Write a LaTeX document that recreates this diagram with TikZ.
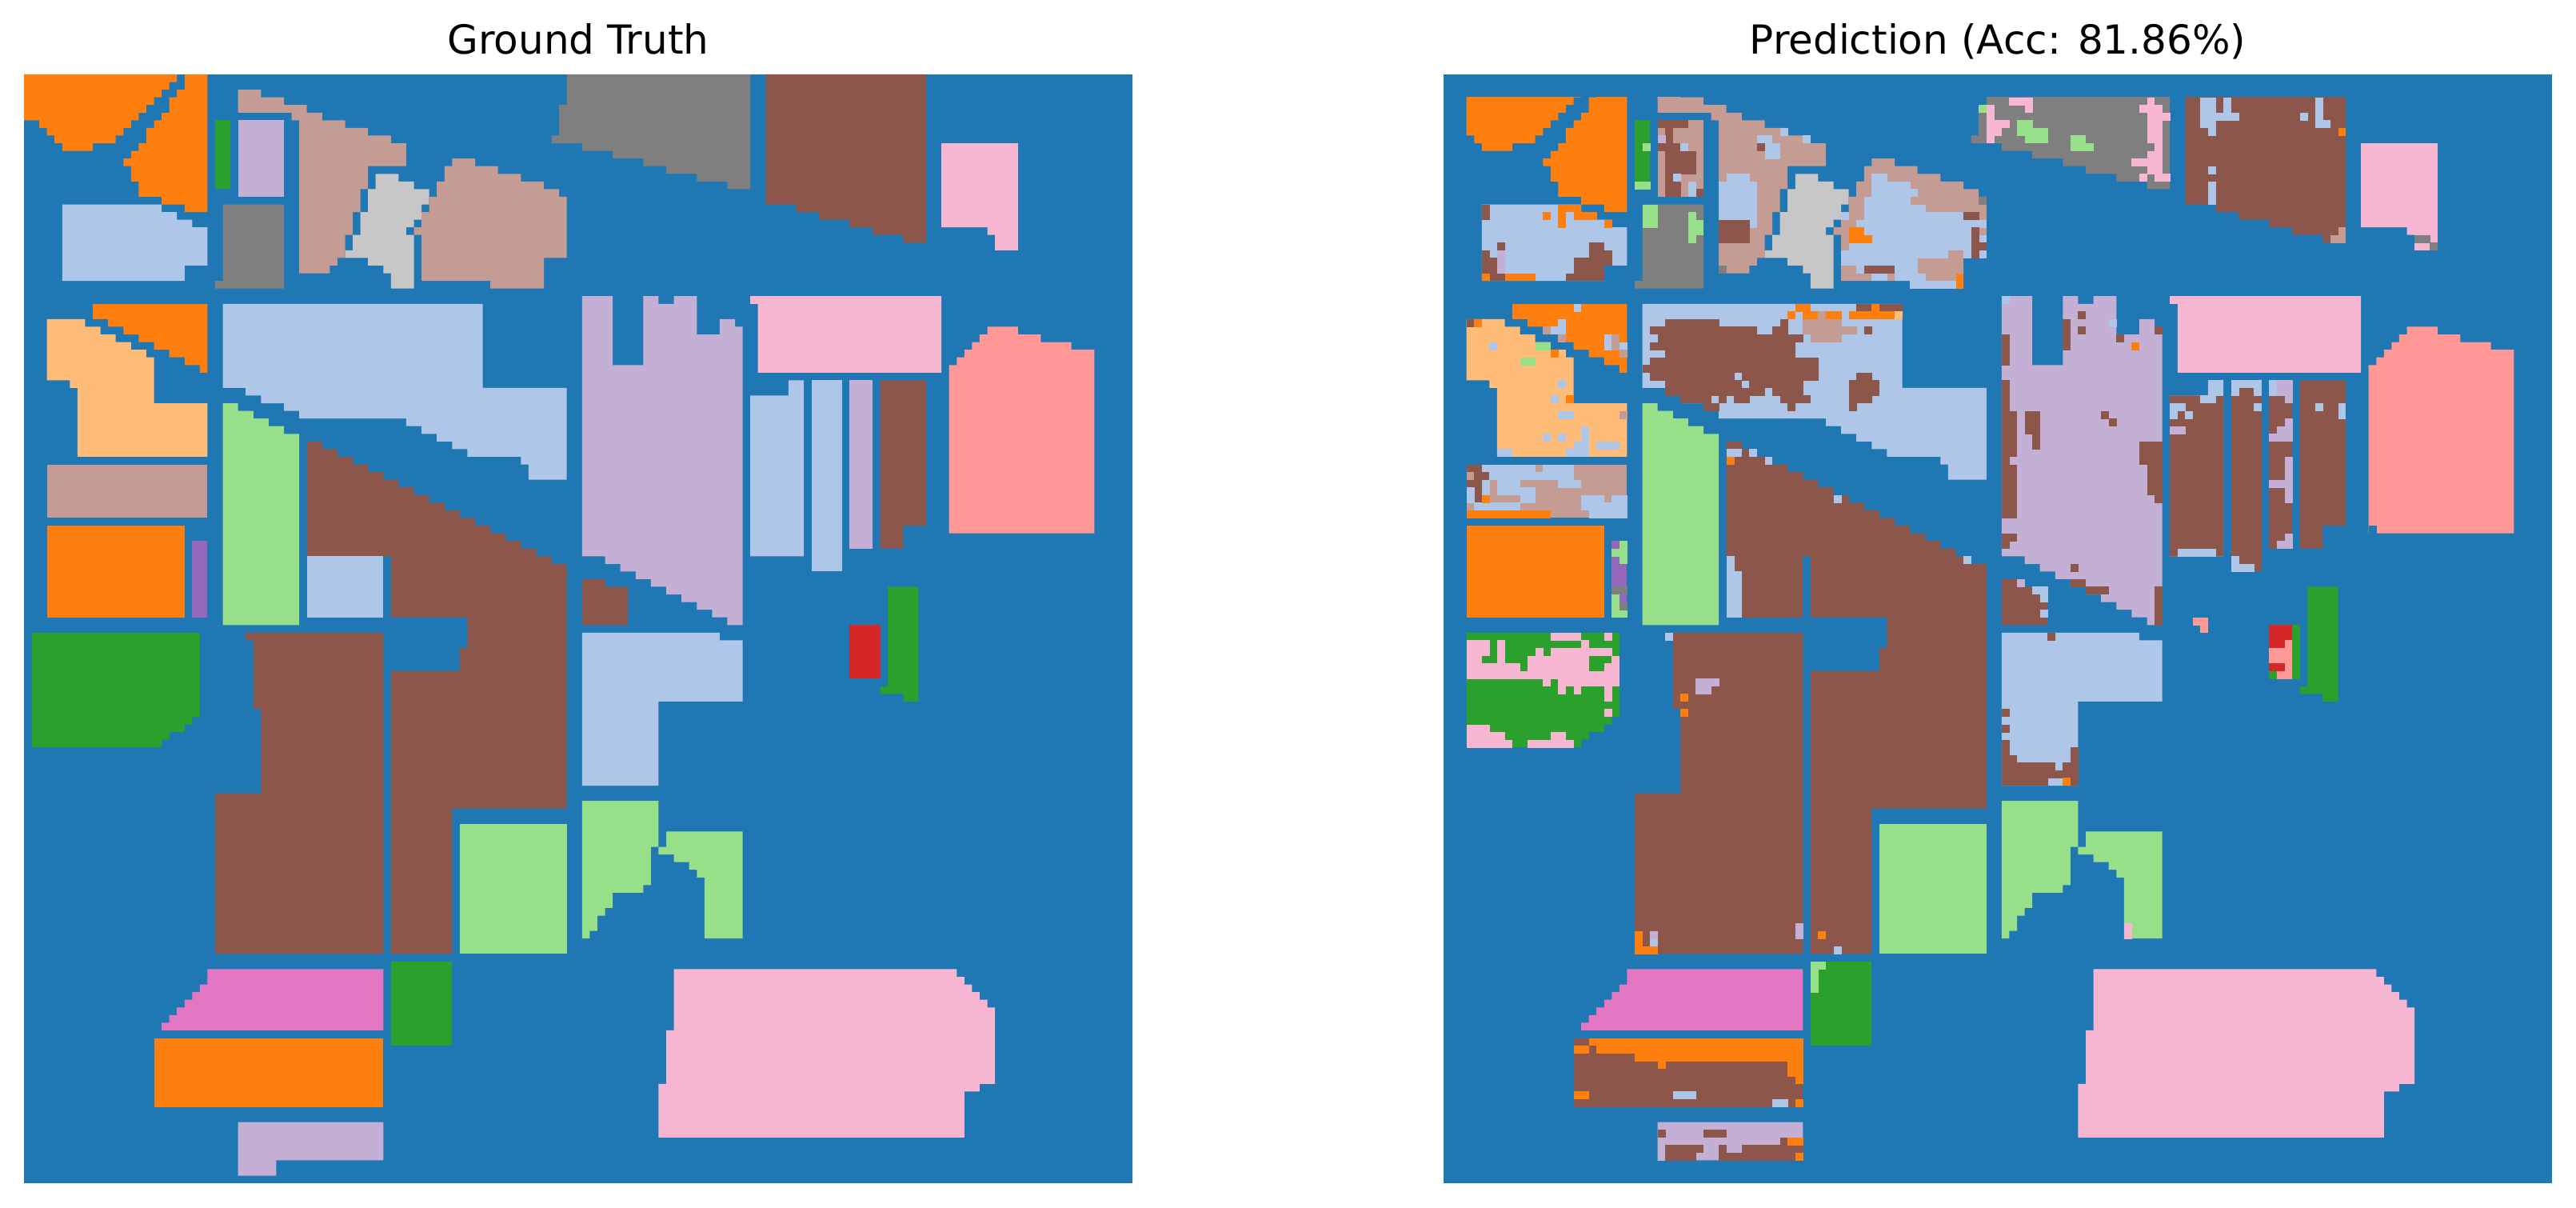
\documentclass[tikz,border=0pt]{standalone}
\usepackage{fontspec}
\setmainfont{DejaVu Sans}
\definecolor{soil}{HTML}{1F77B4}
\definecolor{sky}{HTML}{AEC7E8}
\definecolor{amber}{HTML}{FF7F0E}
\definecolor{peach}{HTML}{FFBB78}
\definecolor{leaf}{HTML}{2CA02C}
\definecolor{mint}{HTML}{98DF8A}
\definecolor{crimson}{HTML}{D62728}
\definecolor{salmon}{HTML}{FF9896}
\definecolor{violet}{HTML}{9467BD}
\definecolor{lilac}{HTML}{C5B0D5}
\definecolor{bark}{HTML}{8C564B}
\definecolor{tan}{HTML}{C49C94}
\definecolor{magenta}{HTML}{E377C2}
\definecolor{blush}{HTML}{F7B6D2}
\definecolor{slate}{HTML}{7F7F7F}
\definecolor{silver}{HTML}{C7C7C7}
% rectangles in cells: column, row, column, row (a hair too long, so no seams show)
\newcommand{\patches}[2]{\foreach \a/\b/\c/\d in {#2} \fill[#1] (\a,\b) rectangle (\c+.04,\d+.04);}
% the labelled fields, shared by both panels
\newcommand{\fields}{%
  \fill[amber] (0,0) -| (20,1) -| (19,2) -| (18,3) -| (17,4) -| (16,5) -| (15,6) -| (14,7) -| (13,8) -| (12,9) -| (9,10) -| (5,9) -| (4,8) -| (3,7) -| (2,6) -| (0,0);
  \fill[amber] (21,0) -| (24,18) -| (21,17) -| (18,16) -| (15,14) -| (14,12) -| (13,11) -| (14,10) -| (15,9) -| (16,7) -| (17,6) -| (18,5) -| (19,3) -| (20,2) -| (21,0);
  \fill[leaf] (25,6) rectangle (27,15);
  \fill[lilac] (28,6) rectangle (34,16);
  \fill[tan] (28,2) -| (31,3) -| (34,4) -| (37,5) -| (39,6) -| (42,7) -| (45,8) -| (48,9) -| (50,12) -| (45,15) -| (44,18) -| (43,21) -| (42,24) -| (41,25) -| (40,26) -| (36,6) -| (35,5) -| (28,2);
  \fill[silver] (46,13) -| (49,14) -| (51,15) -| (53,17) -| (52,19) -| (51,20) -| (50,21) -| (51,28) -| (48,26) -| (47,25) -| (45,24) -| (42,23) -| (43,21) -| (44,18) -| (45,15) -| (46,13);
  \fill[tan] (56,11) -| (59,12) -| (62,13) -| (65,14) -| (68,15) -| (70,16) -| (71,24) -| (68,28) -| (61,27) -| (52,21) -| (51,20) -| (52,18) -| (53,16) -| (54,14) -| (55,12) -| (56,11);
  \fill[sky] (5,17) -| (18,18) -| (20,19) -| (22,20) -| (24,25) -| (21,27) -| (5,17);
  \fill[slate] (26,17) -| (34,28) -| (25,27) -| (26,17);
  \fill[slate] (71,0) -| (95,15) -| (92,14) -| (88,13) -| (84,12) -| (81,11) -| (77,10) -| (73,9) -| (69,8) -| (70,4) -| (71,0);
  \fill[bark] (97,0) -| (118,22) -| (115,21) -| (111,20) -| (108,19) -| (104,18) -| (101,17) -| (97,0);
  \fill[blush] (120,9) -| (130,23) -| (127,21) -| (126,20) -| (120,9);
  % middle band
  \fill[amber] (9,30) -| (24,39) -| (23,38) -| (21,37) -| (19,36) -| (17,35) -| (15,34) -| (13,33) -| (11,32) -| (9,30);
  \fill[peach] (3,32) -| (8,33) -| (10,34) -| (12,35) -| (14,36) -| (16,37) -| (17,43) -| (24,50) -| (7,41) -| (6,40) -| (3,32);
  \fill[tan] (3,51) rectangle (24,58);
  \fill[amber] (3,59) rectangle (21,71);
  \fill[violet] (22,61) rectangle (24,71);
  \fill[mint] (26,43) -| (28,44) -| (30,45) -| (32,46) -| (34,47) -| (36,72) -| (26,43);
  \fill[sky] (26,30) -| (60,41) -| (71,53) -| (66,51) -| (65,50) -| (58,49) -| (56,48) -| (54,47) -| (52,46) -| (50,45) -| (36,44) -| (34,43) -| (31,42) -| (29,41) -| (26,30);
  \fill[bark] (37,48) -| (39,49) -| (41,50) -| (43,51) -| (45,52) -| (47,53) -| (49,54) -| (51,55) -| (53,56) -| (55,57) -| (57,58) -| (59,59) -| (61,60) -| (63,61) -| (65,62) -| (67,63) -| (69,64) -| (71,96) -| (56,115) -| (48,78) -| (57,75) -| (58,71) -| (48,63) -| (37,48);
  \fill[sky] (37,63) rectangle (47,71);
  \fill[lilac] (73,29) -| (77,38) -| (81,29) -| (83,30) -| (85,29) -| (88,34) -| (91,32) -| (93,33) -| (94,72) -| (92,71) -| (90,70) -| (88,69) -| (86,68) -| (84,67) -| (82,66) -| (80,65) -| (78,64) -| (76,63) -| (73,29);
  \fill[bark] (73,66) -| (76,67) -| (79,72) -| (73,66);
  \fill[blush] (95,29) -| (120,39) -| (96,30) -| (95,29);
  \fill[sky] (100,40) -| (102,63) -| (95,42) -| (100,40);
  \fill[sky] (103,40) rectangle (107,65);
  \fill[lilac] (108,40) rectangle (111,62);
  \fill[bark] (112,40) -| (118,59) -| (115,62) -| (112,40);
  \fill[salmon] (126,33) -| (130,34) -| (133,35) -| (137,36) -| (140,60) -| (121,38) -| (122,37) -| (123,36) -| (124,35) -| (125,34) -| (126,33);
  % lower band
  \fill[bark] (29,73) -| (47,115) -| (25,94) -| (31,83) -| (30,74) -| (29,73);
  \fill[leaf] (1,73) -| (23,84) -| (22,85) -| (21,86) -| (19,87) -| (18,88) -| (1,73);
  \fill[mint] (57,98) rectangle (71,115);
  \fill[leaf] (48,116) rectangle (56,127);
  \fill[magenta] (24,117) -| (47,125) -| (18,124) -| (19,123) -| (20,122) -| (21,121) -| (22,120) -| (23,119) -| (24,117);
  \fill[amber] (17,126) rectangle (47,135);
  \fill[lilac] (28,137) -| (47,142) -| (33,144) -| (28,137);
  \fill[sky] (73,73) -| (91,74) -| (94,82) -| (83,93) -| (73,73);
  \fill[crimson] (108,72) rectangle (112,79);
  \fill[leaf] (113,67) -| (117,82) -| (115,81) -| (112,80) -| (113,67);
  \fill[mint] (73,95) -| (83,101) -| (82,106) -| (81,107) -| (77,109) -| (76,110) -| (75,112) -| (74,113) -| (73,95);
  \fill[mint] (84,99) -| (94,113) -| (89,105) -| (88,104) -| (87,103) -| (85,102) -| (83,101) -| (84,99);
  \fill[blush] (85,117) -| (122,118) -| (123,119) -| (124,120) -| (125,121) -| (126,122) -| (127,132) -| (125,133) -| (123,139) -| (83,132) -| (84,125) -| (85,117);
}
\begin{document}
\begin{tikzpicture}[
        paneltitle/.style={anchor=base, font=\fontsize{14.23}{17}\selectfont, text=black, inner sep=0pt},
        panelcells/.style={x=0.09559cm, y=-0.09559cm}
    ]
    \useasboundingbox (0,0) rectangle (32.21,15.09);

    % Titles
    \node[paneltitle] (truthtitle) at (7.23,14.41) {Ground Truth};
    \node[paneltitle] (predtitle) at (24.98,14.41) {Prediction (Acc: 81.86\%)};

    % Ground truth panel
    \begin{scope}[shift={(0.30cm,14.16cm)}, panelcells]
        \fill[soil] (0,0) rectangle (145,145);
        \fields
    \end{scope}

    % Prediction panel
    \begin{scope}[shift={(18.05cm,14.16cm)}, panelcells]
        \fill[soil] (0,0) rectangle (145,145);
        \begin{scope}
            \clip (3,3) rectangle (142,142);
            \fields
        \end{scope}
        % fields that are mostly another class
        \fill[tan] (28,6) rectangle (34,16);
        \fill[bark] (37,63) rectangle (47,71);
        \fill[bark] (100,40) -| (102,63) -| (95,42) -| (100,40);
        \fill[bark] (103,40) rectangle (107,65);
        \fill[bark] (108,40) rectangle (111,62);
        \fill[bark] (17,126) rectangle (47,135);

        % Top left block
        \patches{bark}{28/6/32/7, 29/7/30/9, 28/9/31/10, 29/10/33/13, 29/13/30/14, 29/14/31/16, 33/15/34/16}
        \patches{lilac}{28/8/29/9}
        \patches{sky}{31/9/32/10, 30/13/31/14, 32/14/33/16}
        \patches{mint}{26/9/27/10, 25/14/27/15, 26/17/28/20, 32/18/33/19, 32/19/34/21, 32/21/33/22}

        % Top fields
        \patches{sky}{44/7/45/8, 41/8/43/9, 47/8/48/9, 42/9/44/11, 37/13/40/14, 36/14/41/19, 40/19/41/20}
        \patches{bark}{41/9/42/10, 36/19/40/22}
        \patches{slate}{36/25/37/26, 70/16/71/17}
        \patches{sky}{52/18/53/19, 56/13/58/14, 56/14/61/15, 56/15/62/16, 55/16/61/17, 55/17/63/18, 55/18/68/19, 54/19/71/20, 55/20/69/21, 56/21/69/22, 70/21/71/22, 53/22/69/23, 52/23/66/24, 68/23/69/24, 70/23/71/24, 52/24/62/25, 54/25/55/26, 59/25/62/26, 56/26/58/27, 59/26/63/27, 61/27/67/28}
        \patches{bark}{68/18/70/19, 69/20/70/22, 69/22/71/23, 69/23/70/24, 55/25/59/26}
        \patches{amber}{53/20/55/21, 53/21/56/22, 67/26/68/28}

        % Left column
        \patches{bark}{5/17/6/19, 7/22/8/23, 5/23/6/24, 5/24/7/26, 6/26/8/27, 16/26/21/27, 19/22/21/23, 19/23/22/24, 17/24/22/25, 17/25/21/26}
        \patches{lilac}{7/23/8/26}
        \patches{amber}{15/17/18/18, 13/18/14/19, 15/18/16/20, 17/18/20/19, 21/19/22/20, 5/26/6/27, 8/26/12/27}
        \patches{sky}{17/30/18/31, 15/32/16/33, 14/33/16/34, 21/34/22/36, 23/35/24/36}
        \patches{tan}{13/33/14/34, 15/34/16/35, 22/34/23/36, 23/36/24/37, 23/44/24/45}
        \patches{bark}{3/32/4/33}
        \patches{amber}{4/32/5/33, 14/36/15/37, 16/42/17/43}
        \patches{sky}{6/35/7/36, 15/40/16/41, 14/42/15/43, 15/44/17/45, 18/46/19/48, 13/47/14/48, 15/47/16/48, 17/48/19/49, 20/48/23/49, 7/49/9/50, 16/49/19/50}
        \patches{mint}{12/35/14/36, 10/37/12/38}
        \patches{bark}{3/51/5/52, 4/52/6/53, 3/53/5/54, 4/54/5/56}
        \patches{sky}{5/51/12/52, 13/51/17/52, 6/52/17/53, 5/53/6/54, 7/53/10/54, 15/53/18/54, 3/54/4/56, 5/54/6/55, 7/54/12/55, 10/55/12/56, 18/55/21/56, 22/55/24/56, 4/56/10/57, 18/56/24/57, 19/57/24/58}
        \patches{amber}{5/55/6/56, 3/57/14/58}
        % violet strip
        \patches{mint}{23/61/24/62, 22/62/24/63, 23/63/24/64, 22/68/23/70, 22/70/24/71}
        \patches{slate}{22/67/24/68, 23/69/24/70}

        % Long strip in the middle
        \patches{bark}{54/30/56/31, 57/30/60/31, 29/32/36/33, 44/32/45/33, 27/33/41/34, 43/33/45/34, 55/33/56/34, 28/34/47/35, 27/35/46/36, 29/36/46/37, 27/37/49/38, 26/38/49/39, 27/39/38/40, 39/39/49/40, 54/39/56/40, 29/40/39/41, 40/40/47/41, 53/40/57/41, 29/41/42/42, 43/41/47/42, 53/41/57/42, 31/42/35/43, 36/42/37/43, 38/42/40/43, 44/42/48/43, 53/42/56/43, 34/43/36/44, 45/43/46/44, 53/43/54/44}
        \patches{amber}{46/30/48/31, 56/30/57/31, 45/31/46/32, 47/31/49/32, 50/31/52/32, 53/31/59/32}
        \patches{tan}{49/31/50/32, 47/32/52/33, 47/33/54/34, 48/34/52/35}
        \patches{peach}{59/31/60/32}
        \patches{sky}{37/49/39/50, 40/49/41/50, 42/50/43/51, 51/55/52/56, 68/63/69/64, 37/63/38/65, 37/65/39/71}
        \patches{amber}{37/50/38/51}

        % Tall field and its neighbours
        \patches{bark}{73/34/74/38, 83/31/84/32, 81/32/82/36, 83/33/84/34, 88/34/89/35, 93/33/94/34, 73/40/74/44, 73/44/75/50, 73/50/74/51, 73/51/75/58, 76/44/78/47, 77/47/78/49, 86/44/87/45, 87/45/88/46, 91/48/94/51, 92/51/94/55, 93/55/94/56, 73/60/75/61, 73/61/74/62, 82/64/83/65, 82/66/84/67, 84/67/87/68, 93/67/94/72}
        \patches{sky}{73/29/74/30, 87/32/88/33, 77/67/79/68, 78/68/79/69, 78/70/79/71}
        \patches{amber}{90/35/91/36}
        \patches{lilac}{75/66/76/67}
        \patches{bark}{79/73/80/74, 73/83/74/84, 73/85/74/86, 73/87/74/89, 82/88/83/90, 73/89/75/90, 73/90/80/91, 81/90/83/91, 73/91/83/92, 73/92/79/93, 82/92/83/93}
        \patches{amber}{81/92/82/93}
        \patches{blush}{89/111/90/113}

        % Top right fields
        \patches{blush}{74/3/77/4, 76/4/77/5, 71/4/72/9, 71/6/74/7, 71/7/73/8, 92/3/93/4, 91/4/94/5, 92/5/95/6, 92/6/94/9, 93/9/94/10, 92/10/94/11, 90/11/94/12, 92/12/94/13, 91/13/92/14, 93/13/95/14}
        \patches{mint}{70/4/71/5, 75/6/77/7, 75/7/79/8, 76/8/79/9, 82/8/84/9, 82/9/85/10}
        \patches{sky}{99/3/101/7, 100/7/101/8, 102/3/103/5, 101/5/104/6, 112/5/113/6, 114/3/115/7, 114/6/116/7, 100/12/101/13, 100/14/101/17}
        \patches{amber}{117/7/118/8}
        \patches{tan}{117/20/118/22, 116/21/117/22}
        \patches{slate}{127/21/129/22, 129/22/130/23}

        % Narrow bars
        \patches{sky}{100/40/102/42, 99/42/101/43, 95/43/97/44, 95/44/96/45, 97/44/98/45, 96/62/101/63, 103/40/107/41, 103/41/104/42, 106/41/107/42, 106/43/107/44, 103/63/104/65, 103/64/106/65, 108/40/109/42, 114/43/115/44, 117/43/118/45}
        \patches{lilac}{95/46/97/47, 109/40/111/42, 110/42/111/43, 110/45/111/46, 109/46/111/47, 108/47/111/48, 110/50/111/53, 108/53/111/54, 110/54/111/56, 110/60/111/61, 109/61/111/62}

        % Small plots on the right
        \patches{salmon}{98/71/100/72, 99/72/100/73, 110/74/111/75, 108/75/111/77, 110/77/111/78, 109/78/111/79}
        \patches{leaf}{108/78/109/79, 111/72/112/79}
        \patches{soil}{121/59/122/60}

        % Lower left
        \patches{blush}{14/73/18/74, 21/73/22/74, 3/74/6/75, 7/74/8/75, 18/74/19/75, 3/75/6/76, 7/75/8/76, 12/75/13/76, 14/75/22/76, 3/76/5/77, 7/76/8/77, 11/76/19/77, 22/76/23/77, 3/77/10/78, 11/77/19/78, 21/77/23/78, 3/78/23/79, 13/79/14/80, 15/79/23/80, 15/80/16/81, 17/80/18/81, 21/80/22/81, 21/81/22/82, 21/83/22/84, 3/85/6/86, 3/86/8/87, 14/86/16/87, 3/87/9/88, 11/87/17/88}
        \patches{sky}{29/73/30/74, 27/113/28/114, 51/114/52/115}
        \patches{lilac}{33/79/36/80, 33/80/35/81, 46/111/47/113, 27/112/28/113}
        \patches{amber}{31/81/32/82, 31/83/32/84, 25/112/26/115, 25/114/28/115, 49/112/50/113}
        \patches{mint}{48/116/50/117, 48/117/49/120}

        % Bottom strips
        \patches{amber}{19/126/47/127, 17/127/19/128, 20/127/47/128, 25/128/47/129, 28/129/29/130, 45/129/47/131, 46/131/47/132, 17/133/19/134, 46/134/47/135}
        \patches{sky}{30/133/33/134, 43/134/45/135}
        \patches{bark}{28/138/29/139, 34/138/37/139, 44/139/45/140, 29/140/34/141, 36/140/37/141, 39/140/47/141, 29/141/33/142, 36/141/46/142}
        \patches{amber}{45/139/47/140, 46/141/47/142}
    \end{scope}
\end{tikzpicture}
\end{document}
